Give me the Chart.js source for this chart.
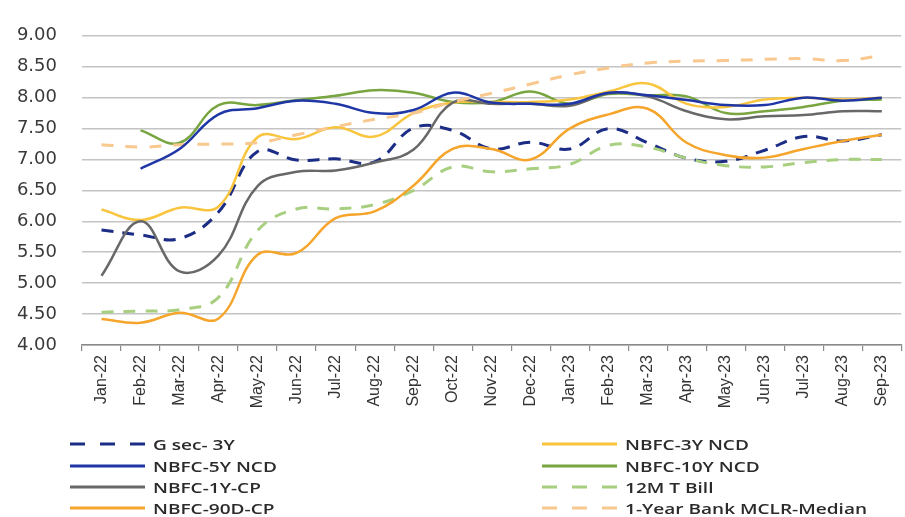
<!DOCTYPE html>
<html>
<head>
<meta charset="utf-8">
<script src="https://cdn.jsdelivr.net/npm/chart.js@4.4.1/dist/chart.umd.min.js"></script>
<style>
  html, body { margin: 0; padding: 0; background: #ffffff; }
  #wrap { position: relative; width: 905px; height: 517px; overflow: hidden; }
  #c { position: absolute; left: 0; top: 0; }
  #legend { position: absolute; left: 0; top: 0; width: 905px; height: 517px; pointer-events: none; }
  .item { position: absolute; height: 20px; display: flex; align-items: center; white-space: nowrap; }
  .item svg { flex: none; }
  .item span { display: inline-block; margin-left: 8px; font-family: "Open Sans", sans-serif; font-weight: 600; font-size: 14px; color: #2b2b2b; transform: scaleX(1.36); transform-origin: left center; }
</style>
</head>
<body>
<div id="wrap">
  <canvas id="c" width="905" height="517"></canvas>
  <div id="legend"></div>
</div>
<script>
const categories = ["Jan-22","Feb-22","Mar-22","Apr-22","May-22","Jun-22","Jul-22","Aug-22","Sep-22","Oct-22","Nov-22","Dec-22","Jan-23","Feb-23","Mar-23","Apr-23","May-23","Jun-23","Jul-23","Aug-23","Sep-23"];
const yTicks = [4.00, 4.50, 5.00, 5.50, 6.00, 6.50, 7.00, 7.50, 8.00, 8.50, 9.00];

const gsec3y   = [5.86, 5.78, 5.72, 6.15, 7.13, 6.99, 7.01, 6.96, 7.51, 7.47, 7.17, 7.28, 7.17, 7.50, 7.27, 7.02, 6.97, 7.15, 7.37, 7.30, 7.40];
const ncd3y    = [6.19, 6.02, 6.22, 6.24, 7.36, 7.33, 7.52, 7.37, 7.75, 7.92, 7.93, 7.93, 7.97, 8.10, 8.23, 7.90, 7.85, 7.97, 8.00, 7.97, 8.00];
const ncd5y    = [null, 6.85, 7.17, 7.73, 7.83, 7.95, 7.90, 7.75, 7.80, 8.08, 7.92, 7.90, 7.90, 8.08, 8.04, 7.96, 7.88, 7.88, 8.00, 7.95, 8.00];
const ncd10y   = [null, 7.47, 7.27, 7.88, 7.88, 7.96, 8.03, 8.12, 8.08, 7.93, 7.93, 8.10, 7.90, 8.06, 8.04, 8.02, 7.75, 7.78, 7.85, 7.95, 7.97];
const cp1y     = [5.12, 6.00, 5.19, 5.45, 6.57, 6.80, 6.82, 6.95, 7.16, 7.92, 7.90, 7.90, 7.87, 8.07, 8.02, 7.78, 7.65, 7.70, 7.72, 7.78, 7.78];
const tbill12m = [4.53, 4.55, 4.57, 4.77, 5.85, 6.20, 6.20, 6.27, 6.50, 6.88, 6.80, 6.85, 6.92, 7.23, 7.20, 7.02, 6.90, 6.88, 6.95, 7.00, 7.00];
const cp90d    = [4.42, 4.36, 4.52, 4.43, 5.46, 5.49, 6.05, 6.16, 6.58, 7.17, 7.17, 7.00, 7.50, 7.73, 7.82, 7.27, 7.07, 7.03, 7.17, 7.30, 7.40];
const mclr1y   = [7.24, 7.20, 7.24, 7.25, 7.27, 7.40, 7.53, 7.65, 7.75, 7.93, 8.07, 8.22, 8.37, 8.48, 8.56, 8.59, 8.60, 8.62, 8.63, 8.60, 8.68];

const seriesNames = ["G sec- 3Y","NBFC-3Y NCD","NBFC-5Y NCD","NBFC-10Y NCD","NBFC-1Y-CP","12M T Bill","NBFC-90D-CP","1-Year Bank MCLR-Median"];
const seriesData = [gsec3y, ncd3y, ncd5y, ncd10y, cp1y, tbill12m, cp90d, mclr1y];
const seriesColors = ["#1c2d86","#f9c53e","#1f36a6","#78a540","#686868","#a8cf80","#f6a52c","#f8c88e"];
const seriesDash = [[12,9], [], [], [], [], [12,10], [], [12,12]];
const drawOrder = [7, 5, 0, 6, 4, 3, 1, 2];

const datasets = seriesNames.map((name, i) => ({
  label: name,
  data: seriesData[i],
  borderColor: seriesColors[i],
  backgroundColor: seriesColors[i],
  borderDash: seriesDash[i],
  borderWidth: seriesDash[i].length ? 3 : 2.5,
  pointRadius: 0,
  pointHoverRadius: 0,
  tension: 0.4,
  fill: false,
  order: drawOrder[i]
}));

new Chart(document.getElementById('c'), {
  type: 'line',
  data: { labels: categories, datasets: datasets },
  options: {
    responsive: false,
    devicePixelRatio: 1,
    animation: false,
    layout: { padding: { top: 14, left: 0, right: 0, bottom: 0 } },
    plugins: { legend: { display: false }, tooltip: { enabled: false } },
    scales: {
      x: {
        type: 'category',
        offset: true,
        afterFit: (s) => { s.height = 172; },
        grid: { offset: true, drawOnChartArea: false, drawTicks: true, tickLength: 6, color: '#8a8a8a', lineWidth: 1.2 },
        border: { display: true, color: '#8a8a8a', width: 1.5 },
        ticks: { autoSkip: false, maxRotation: 90, minRotation: 90, padding: 4, color: '#333333', font: { family: 'Liberation Sans', size: 16 } }
      },
      y: {
        min: 4, max: 9,
        afterFit: (s) => { s.width = 82; },
        afterBuildTicks: (s) => { s.ticks = yTicks.map(v => ({ value: v })); },
        grid: { drawTicks: false, color: '#c4c4c4', lineWidth: 1.5 },
        border: { display: false },
        ticks: { padding: 25, color: '#3a3a3a', font: { family: 'DejaVu Sans', size: 18 }, callback: (v) => Number(v).toFixed(2) }
      }
    }
  }
});

// Legend (two columns, reading order row by row)
const legend = document.getElementById('legend');
const colX = [70, 542];
const rowY = [444, 466, 487, 508];
seriesNames.forEach((name, i) => {
  const col = i % 2, row = Math.floor(i / 2);
  const div = document.createElement('div');
  div.className = 'item';
  div.style.left = colX[col] + 'px';
  div.style.top = (rowY[row] - 10) + 'px';
  const w = 75;
  const dash = seriesDash[i].length ? 'stroke-dasharray="15 15"' : '';
  div.innerHTML = '<svg width="' + w + '" height="6"><line x1="0" y1="3" x2="' + w + '" y2="3" stroke="' + seriesColors[i] + '" stroke-width="3" ' + dash + '/></svg><span></span>';
  div.querySelector('span').textContent = name;
  legend.appendChild(div);
});
</script>
</body>
</html>
